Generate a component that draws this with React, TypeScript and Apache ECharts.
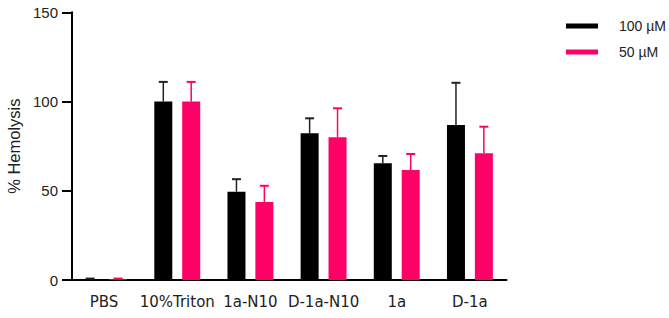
import React, { useEffect, useRef } from "react";
import * as echarts from "echarts";

const categories = ["PBS", "10%Triton", "1a-N10", "D-1a-N10", "1a", "D-1a"];
const seriesNames = ["100 µM", "50 µM"];
const mean100 = [0.4, 100, 49.5, 82.2, 65.4, 86.8];
const err100 = [0.4, 11, 7, 8.4, 4.1, 23.7];
const mean50 = [0.4, 100, 43.7, 80, 61.6, 71];
const err50 = [0.4, 11, 9.1, 16.2, 9, 14.9];
const yTicks = { min: 0, max: 150, interval: 50 };

const BLACK = "#000000";
const PINK = "#ff0066";
const BAR_W = 18;
const BAR_GAP = 0.55;
const HALF_SPREAD = (BAR_W + BAR_W * BAR_GAP) / 2;

function errSeries(name: string, means: number[], errs: number[], color: string, offset: number) {
  return {
    type: "custom",
    name,
    z: 5,
    data: means.map((m, i) => [i, m, m + errs[i]]),
    encode: { x: 0, y: [1, 2] },
    renderItem: (_params: any, api: any) => {
      const i = api.value(0);
      const lo = api.coord([i, api.value(1)]);
      const hi = api.coord([i, api.value(2)]);
      const x = lo[0] + offset;
      return {
        type: "group",
        children: [
          {
            type: "line",
            shape: { x1: x, y1: lo[1], x2: x, y2: hi[1] },
            style: { stroke: color, lineWidth: 1.5 },
          },
          {
            type: "line",
            shape: { x1: x - 4.5, y1: hi[1], x2: x + 4.5, y2: hi[1] },
            style: { stroke: color, lineWidth: 2 },
          },
        ],
      };
    },
  };
}

export default function App() {
  const ref = useRef<HTMLDivElement>(null);
  useEffect(() => {
    if (!ref.current) return;
    const chart = echarts.init(ref.current, null, { renderer: "svg" });
    chart.setOption({
      animation: false,
      backgroundColor: "#ffffff",
      grid: {
        left: 67.5,
        right: 162.5,
        top: 12.3,
        bottom: 38,
        containLabel: false,
        outerBoundsMode: "none",
      },
      legend: {
        data: seriesNames,
        orient: "vertical",
        left: 566,
        top: 19,
        icon: "rect",
        itemWidth: 32,
        itemHeight: 5,
        itemGap: 12,
        padding: 0,
        textStyle: {
          fontFamily: "Liberation Sans",
          fontSize: 14,
          color: "#222",
          padding: [0, 0, 0, 16],
        },
      },
      xAxis: {
        type: "category",
        data: categories,
        axisLine: { lineStyle: { color: "#000", width: 2 } },
        axisTick: { alignWithLabel: true, length: 11, lineStyle: { color: "#000", width: 2 } },
        axisLabel: {
          fontFamily: "DejaVu Sans",
          fontSize: 15,
          color: "#222",
          margin: 14,
          interval: 0,
        },
      },
      yAxis: {
        type: "value",
        min: yTicks.min,
        max: yTicks.max,
        interval: yTicks.interval,
        offset: -4.5,
        name: "% Hemolysis",
        nameLocation: "middle",
        nameGap: 48,
        nameTextStyle: { fontFamily: "Liberation Sans", fontSize: 16.5, color: "#222" },
        axisLine: { show: true, lineStyle: { color: "#000", width: 2 } },
        axisTick: { show: true, length: 10, lineStyle: { color: "#000", width: 2 } },
        axisLabel: { fontFamily: "Liberation Sans", fontSize: 15, color: "#222", margin: 14 },
        splitLine: { show: false },
      },
      series: [
        {
          type: "bar",
          name: seriesNames[0],
          data: mean100,
          barWidth: BAR_W,
          barGap: BAR_GAP * 100 + "%",
          itemStyle: { color: BLACK },
        },
        {
          type: "bar",
          name: seriesNames[1],
          data: mean50,
          barWidth: BAR_W,
          barGap: BAR_GAP * 100 + "%",
          itemStyle: { color: PINK },
        },
        errSeries("err100", mean100, err100, "#222222", -HALF_SPREAD),
        errSeries("err50", mean50, err50, PINK, HALF_SPREAD),
      ],
    });
    return () => chart.dispose();
  }, []);
  return (
    <div
      ref={ref}
      style={{ position: "fixed", left: 0, top: 0, width: 669, height: 318, background: "#fff" }}
    />
  );
}
